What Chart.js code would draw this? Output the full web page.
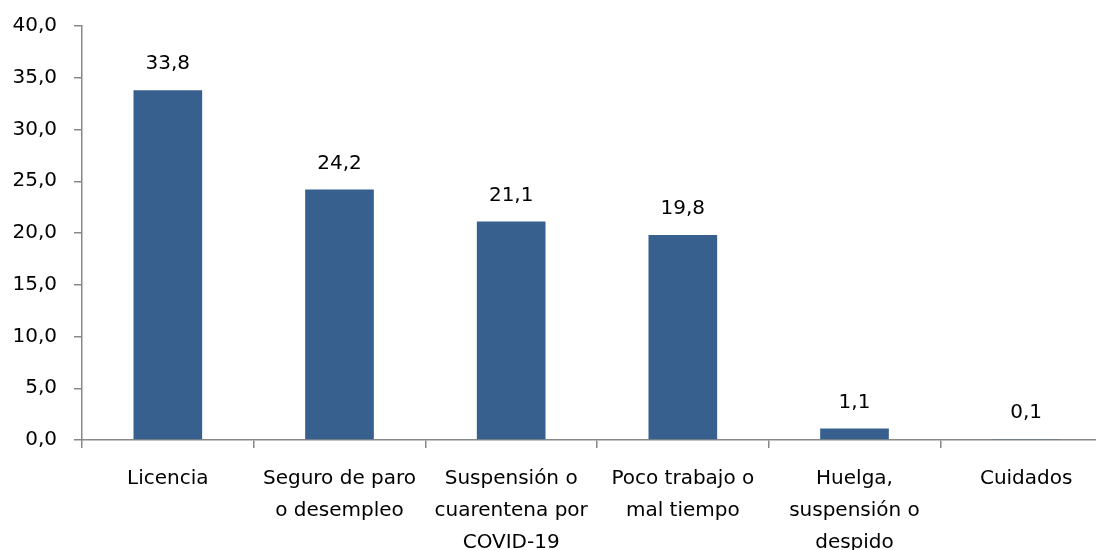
<!DOCTYPE html>
<html>
<head>
<meta charset="utf-8">
<script src="https://cdn.jsdelivr.net/npm/chart.js@4.4.0/dist/chart.umd.min.js"></script>
<style>
  html, body { margin:0; padding:0; background:#fff; overflow:hidden; }
  #wrap { width:1120px; height:550px; position:relative; }
</style>
</head>
<body>
<div id="wrap"><canvas id="barChart"></canvas></div>
<script>
// ===== Data =====
const categories = [
    'Licencia',
    ['Seguro de paro', 'o desempleo'],
    ['Suspensión o', 'cuarentena por', 'COVID-19'],
    ['Poco trabajo o', 'mal tiempo'],
    ['Huelga,', 'suspensión o', 'despido'],
    'Cuidados'
];
const values = [33.8, 24.2, 21.1, 19.8, 1.1, 0.1];
const yTicks = [0, 5, 10, 15, 20, 25, 30, 35, 40];

const fontFamily = '"DejaVu Sans", sans-serif';
const fmt = v => v.toFixed(1).replace('.', ',');

// ===== Value labels above bars =====
const valueLabels = {
    id: 'valueLabels',
    afterDatasetsDraw(chart){
        const ctx = chart.ctx;
        const meta = chart.getDatasetMeta(0);
        ctx.save();
        ctx.font = '20px ' + fontFamily;
        ctx.fillStyle = '#000';
        ctx.textAlign = 'center';
        ctx.textBaseline = 'middle';
        meta.data.forEach((bar, i) => {
            ctx.fillText(fmt(values[i]), bar.x, bar.y - 26);
        });
        ctx.restore();
    }
};

new Chart(document.getElementById('barChart').getContext('2d'), {
    type: 'bar',
    data: {
        labels: categories,
        datasets: [{
            data: values,
            backgroundColor: '#37608F',
            barPercentage: 0.4,
            categoryPercentage: 1.0
        }]
    },
    options: {
        responsive: true,
        maintainAspectRatio: false,
        animation: false,
        layout: { padding: { top: 26, right: 8, left: 0, bottom: 0 } },
        plugins: { legend: { display: false }, tooltip: { enabled: false } },
        scales: {
            x: {
                grid: { drawOnChartArea: false, drawTicks: true, tickLength: 8, color: '#888', offset: true, lineWidth: 1.5 },
                border: { color: '#888', width: 1.5 },
                ticks: { color: '#000', font: { family: fontFamily, size: 20, lineHeight: 1.6 }, padding: 15, maxRotation: 0, autoSkip: false },
                afterFit(scale){ scale.height = 110; }
            },
            y: {
                min: 0, max: 40,
                afterBuildTicks(scale){ scale.ticks = yTicks.map(v => ({ value: v })); },
                grid: { drawOnChartArea: false, drawTicks: true, tickLength: 8, color: '#888', lineWidth: 1.5 },
                border: { color: '#888', width: 1.5 },
                // small lineHeight keeps the label padding from pushing the plot top down
                ticks: { color: '#000', font: { family: fontFamily, size: 20, lineHeight: 0.4 }, padding: 17, callback: v => fmt(v) },
                afterFit(scale){ scale.width = 82; }
            }
        }
    },
    plugins: [valueLabels]
});
</script>
</body>
</html>
